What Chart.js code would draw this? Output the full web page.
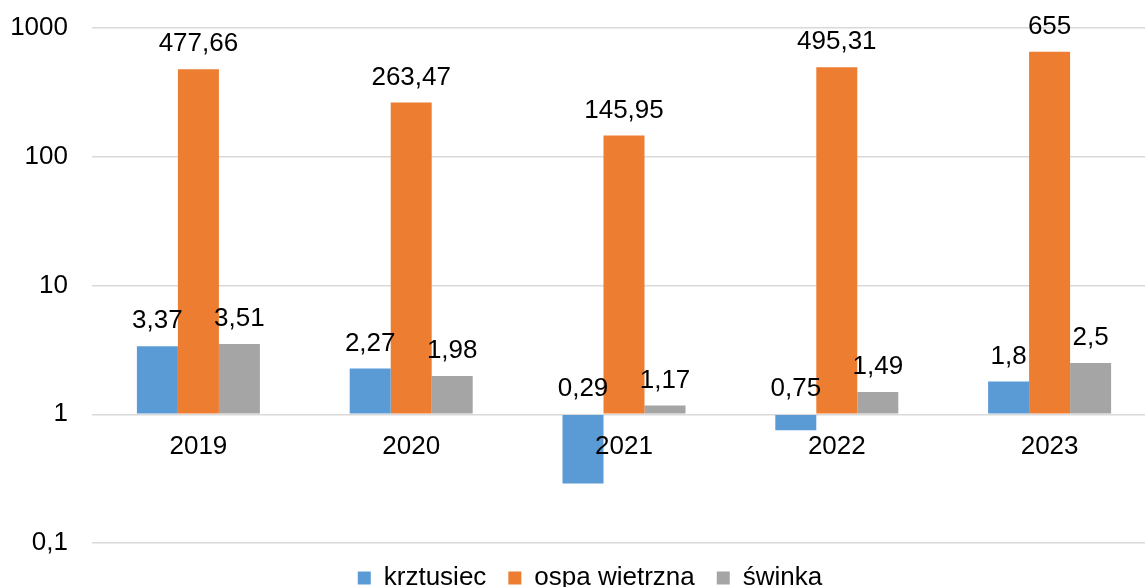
<!DOCTYPE html>
<html>
<head>
<meta charset="utf-8">
<title>Zachorowania</title>
<script src="https://cdn.jsdelivr.net/npm/chart.js"></script>
<style>
  html, body { margin: 0; padding: 0; overflow: hidden; background: #fff; }
  #wrap { width: 1157px; height: 587px; }
</style>
</head>
<body>
<div id="wrap"><canvas id="chart"></canvas></div>
<script>
const years = ['2019', '2020', '2021', '2022', '2023'];
const krztusiec = [3.37, 2.27, 0.29, 0.75, 1.8];
const ospa = [477.66, 263.47, 145.95, 495.31, 655];
const swinka = [3.51, 1.98, 1.17, 1.49, 2.5];
const yTicks = [0.1, 1, 10, 100, 1000];
const seriesNames = ['krztusiec', 'ospa wietrzna', 'świnka'];
const colors = ['#5B9BD5', '#ED7D31', '#A5A5A5'];

const FONT = "'Liberation Sans', Arial, sans-serif";
const SIZE = 26;
const fmt = v => String(v).replace('.', ',');

// value labels over bars + year labels under the "1" line
const labelsPlugin = {
  id: 'labels',
  afterLayout(chart) {
    // legend sits a bit right of the canvas centre in the original
    chart.legend.left += 9;
    chart.legend.right += 9;
  },
  afterDatasetsDraw(chart) {
    const ctx = chart.ctx;
    const base = chart.scales.y.getPixelForValue(1);
    ctx.save();
    ctx.font = SIZE + 'px ' + FONT;
    ctx.fillStyle = '#000';
    ctx.textAlign = 'center';
    ctx.textBaseline = 'middle';
    chart.data.datasets.forEach((ds, i) => {
      chart.getDatasetMeta(i).data.forEach((bar, j) => {
        const top = Math.min(bar.y, base);
        ctx.fillText(fmt(ds.data[j]), bar.x, top - 25);
      });
    });
    const x = chart.scales.x;
    years.forEach((yr, j) => ctx.fillText(yr, x.getPixelForValue(j), base + 33));
    ctx.restore();
  }
};

new Chart(document.getElementById('chart'), {
  type: 'bar',
  data: {
    labels: years,
    datasets: [
      { label: seriesNames[0], data: krztusiec, backgroundColor: colors[0] },
      { label: seriesNames[1], data: ospa, backgroundColor: colors[1] },
      { label: seriesNames[2], data: swinka, backgroundColor: colors[2] }
    ]
  },
  options: {
    responsive: true,
    maintainAspectRatio: false,
    animation: false,
    layout: { padding: { top: 28, left: 6, right: 1, bottom: -14 } },
    datasets: { bar: { base: 1, categoryPercentage: 0.578, barPercentage: 1 } },
    scales: {
      x: { display: false },
      y: {
        type: 'logarithmic',
        min: 0.1,
        max: 1000,
        afterBuildTicks: s => { s.ticks = yTicks.map(v => ({ value: v })); },
        afterFit: s => {
          s.width = 86;
          s.paddingTop = 0;
          s.paddingBottom = 0;
        },
        ticks: {
          callback: v => fmt(v),
          color: '#000',
          padding: 24,
          font: { size: SIZE, family: FONT }
        },
        grid: { color: '#d9d9d9', lineWidth: 1.5, drawTicks: false },
        border: { display: false }
      }
    },
    plugins: {
      legend: {
        position: 'bottom',
        labels: {
          boxWidth: 13,
          boxHeight: 13,
          padding: 22,
          color: '#000',
          font: { size: SIZE, family: FONT }
        }
      },
      tooltip: { enabled: false }
    }
  },
  plugins: [labelsPlugin]
});
</script>
</body>
</html>
